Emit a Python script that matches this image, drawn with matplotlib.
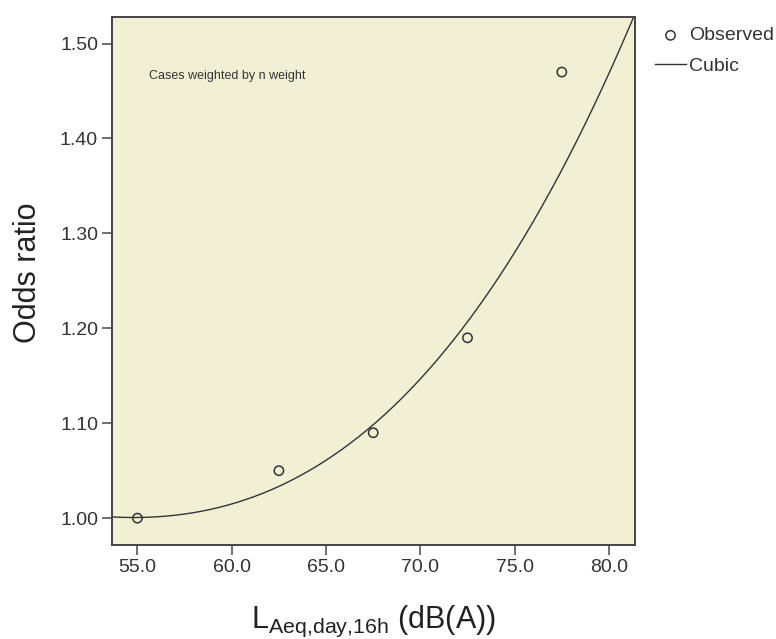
import numpy as np
import matplotlib
matplotlib.use('Agg')
import matplotlib.pyplot as plt

plt.rcParams['font.family'] = ['Liberation Sans', 'DejaVu Sans']
plt.rcParams['mathtext.fontset'] = 'custom'
plt.rcParams['mathtext.rm'] = 'Liberation Sans'
plt.rcParams['mathtext.it'] = 'Liberation Sans'

# observed odds ratios
noise_level = [55.0, 62.5, 67.5, 72.5, 77.5]
odds_ratio = [1.00, 1.05, 1.09, 1.19, 1.47]

# points
fit_x = [53.65, 56.2, 62.5, 67.5, 72.5, 81.3]
fit_y = [1.0024, 1.000, 1.033, 1.101, 1.205, 1.528]

x_ticks = [55.0, 60.0, 65.0, 70.0, 75.0, 80.0]
y_ticks = [1.00, 1.10, 1.20, 1.30, 1.40, 1.50]

# cubic through the read points
coef = np.polyfit(fit_x, fit_y, 3)
xs = np.linspace(53.65, 81.38, 300)
ys = np.polyval(coef, xs)

fig = plt.figure(figsize=(7.76, 6.39), dpi=100)
ax = fig.add_axes([0.1443, 0.1471, 0.6740, 0.8263])
ax.set_facecolor('#F2F0D4')

ax.plot(xs, ys, color='#333333', lw=1.0, label='Cubic', zorder=2)
ax.scatter(noise_level, odds_ratio, s=45, facecolors='none',
           edgecolors='#333333', linewidths=1.1, label='Observed', zorder=3)

ax.set_xlim(53.65, 81.38)
ax.set_ylim(0.9717, 1.528)
ax.set_xticks(x_ticks)
ax.set_xticklabels(['%.1f' % v for v in x_ticks])
ax.set_yticks(y_ticks)
ax.set_yticklabels(['%.2f' % v for v in y_ticks])
ax.tick_params(direction='out', length=7, width=1.2, color='#555555',
               labelsize=14, labelcolor='#333333', pad=3)

for s in ax.spines.values():
    s.set_color('#444444')
    s.set_linewidth(1.4)

ax.set_ylabel('Odds ratio', fontsize=22, color='#222222')
ax.yaxis.set_label_coords(-0.132, 0.515)
ax.set_xlabel(r'$\mathrm{L_{Aeq{,}day{,}16h}}$ (dB(A))', fontsize=22,
              color='#222222', labelpad=20)

ax.text(0.07, 0.888, 'Cases weighted by n weight', transform=ax.transAxes,
        fontsize=9, color='#333333', va='center')

h, l = ax.get_legend_handles_labels()
fig.legend([h[1], h[0]], [l[1], l[0]], loc='upper left',
           bbox_to_anchor=(0.844, 0.958), frameon=False, fontsize=14,
           handlelength=1.6, handletextpad=0.15, borderpad=0,
           borderaxespad=0, labelspacing=0.68, labelcolor='#333333')

fig.savefig('out.png', dpi=100)
